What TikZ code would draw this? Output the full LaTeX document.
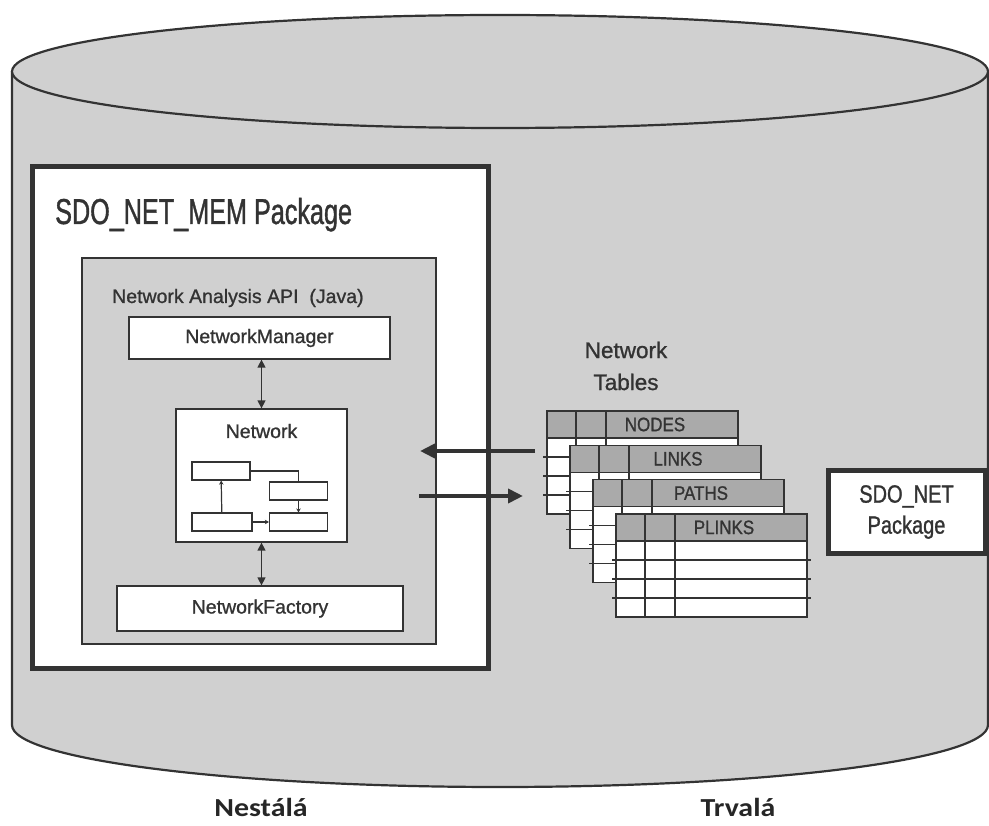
\documentclass[tikz,border=0pt]{standalone}
\usepackage{fontspec}
\setmainfont{Liberation Sans}[FakeBold=1]
\newfontfamily\condfont{Liberation Sans}[FakeStretch=0.7,FakeBold=1]
\newfontfamily\narrowfont{Liberation Sans}[FakeStretch=0.87,FakeBold=1]
\newfontfamily\pkgfont{Liberation Sans}[FakeStretch=0.8,FakeBold=1]
\newfontfamily\capfont{Carlito}[FakeStretch=1.15]
\usepackage{xcolor}
\usetikzlibrary{arrows.meta,positioning}
\definecolor{cylgray}{HTML}{D0D0D0}
\definecolor{headgray}{HTML}{AAAAAA}
\definecolor{ink}{HTML}{333333}

\begin{document}
\begin{tikzpicture}[
  x=1pt, y=-1pt,
  pkgbox/.style={draw=ink, line width=5pt, fill=white, inner sep=0pt},
  apibox/.style={draw=ink, line width=1.2pt, fill=cylgray, inner sep=0pt},
  classbox/.style={draw=ink, line width=1.3pt, fill=white, inner sep=0pt,
                   font=\fontsize{19.5}{22}\selectfont, text=ink},
  minibox/.style={draw=ink, line width=1.2pt, fill=white, inner sep=0pt,
                  minimum width=58pt, minimum height=18pt},
  link/.style={draw=ink, line width=1.2pt},
  tip/.style={link, -{Stealth[length=4pt,width=4.5pt]}},
  dblarrow/.style={draw=ink, line width=1.4pt,
                   {Triangle[length=8pt,width=8pt]}-{Triangle[length=8pt,width=8pt]}},
  bigarrow/.style={draw=ink, line width=4pt, -{Triangle[length=15pt,width=14pt]}},
  caption/.style={font=\capfont\bfseries\fontsize{26}{30}\selectfont,
                  text=black!85, anchor=base, inner sep=0pt},
]
  \useasboundingbox (0,0) rectangle (989,826);

  % database cylinder
  \draw[draw=ink, line width=2.2pt, fill=cylgray]
    (12,71.5) -- (12,725)
    arc[start angle=180, end angle=360, x radius=488pt, y radius=62pt]
    -- (988,71.5);
  \draw[draw=ink, line width=2.2pt, fill=cylgray]
    (500,71.5) ellipse[x radius=488pt, y radius=56.5pt];

  % SDO_NET_MEM package
  \node[pkgbox, minimum width=456pt, minimum height=501pt] (pkg) at (260,417.5) {};
  \node[anchor=base west, inner sep=0pt, text=ink,
        font=\condfont\fontsize{36}{40}\selectfont] (pkgtitle) at (55,224)
    {SDO\_NET\_MEM Package};

  \node[apibox, minimum width=354pt, minimum height=386pt] (api) at (259,451) {};
  \node[anchor=base west, inner sep=0pt, text=ink,
        font=\fontsize{19.5}{22}\selectfont] (apititle) at (112,303)
    {Network Analysis API\ \ (Java)};

  \node[classbox, minimum width=261pt, minimum height=42pt] (mgr) at (259.5,338)
    {NetworkManager};
  \node[classbox, minimum width=171pt, minimum height=133pt] (net) at (261.5,475.5) {};
  \node[anchor=base, inner sep=0pt, text=ink,
        font=\fontsize{19.5}{22}\selectfont] (netlabel) at (261.5,438) {Network};
  \node[classbox, minimum width=286pt, minimum height=45pt] (fac) at (260,608.5)
    {NetworkFactory};

  \node[minibox] (m1) at (221,471) {};
  \node[minibox] (m2) at (298.5,491) {};
  \node[minibox, minimum width=60pt] (m3) at (222,522) {};
  \node[minibox] (m4) at (298.5,522) {};
  \draw[link] (m1) -| (m2);
  \draw[tip] (m3) -- (m1);
  \draw[tip] (m2) -- (m4);
  \draw[tip] (m3) -- (m4);

  \draw[dblarrow] (net.north |- mgr.south) -- (net.north);
  \draw[dblarrow] (net.south) -- (net.south |- fac.north);

  % network tables
  \node[align=center, inner sep=0pt, text=ink,
        font=\fontsize{22.5}{32}\selectfont] (tbltitle) at (626,366)
    {Network\\Tables};
  \foreach \name [count=\k from 0] in {NODES,LINKS,PATHS,PLINKS} {
    \pgfmathsetmacro\tx{547+23*\k}
    \pgfmathsetmacro\ty{411+34.3*\k}
    \fill[white] (\tx,\ty) rectangle ++(191,103);
    \fill[headgray] (\tx,\ty) rectangle ++(191,27);
    \foreach \r in {1,2,3}
      \draw[link] (\tx-4,\ty+27+19*\r) -- ++(199,0);
    \draw[link] (\tx,\ty+27) -- ++(191,0);
    \draw[link] (\tx+29,\ty) -- ++(0,103) (\tx+59,\ty) -- ++(0,103);
    \draw[link] (\tx,\ty) rectangle ++(191,103);
    \node[text=ink, font=\narrowfont\fontsize{19.5}{22}\selectfont] (tab\k)
      at (\tx+108,\ty+13.5) {\name};
  }

  \coordinate (tblout) at (535,451);
  \coordinate (apiin) at (420,451);
  \coordinate (apiout) at (419,496);
  \coordinate (tblin) at (523,496);
  \draw[bigarrow] (tblout) -- (apiin);
  \draw[bigarrow] (apiout) -- (tblin);

  % SDO_NET package
  \node[pkgbox, minimum width=157pt, minimum height=82pt, align=center, text=ink,
        font=\pkgfont\fontsize{25}{31}\selectfont] (sdonet) at (906.5,512)
    {SDO\_NET\\Package};

  \node[caption] (volatile) at (261,816) {Nestálá};
  \node[caption] (persistent) at (738,816) {Trvalá};
\end{tikzpicture}
\end{document}
